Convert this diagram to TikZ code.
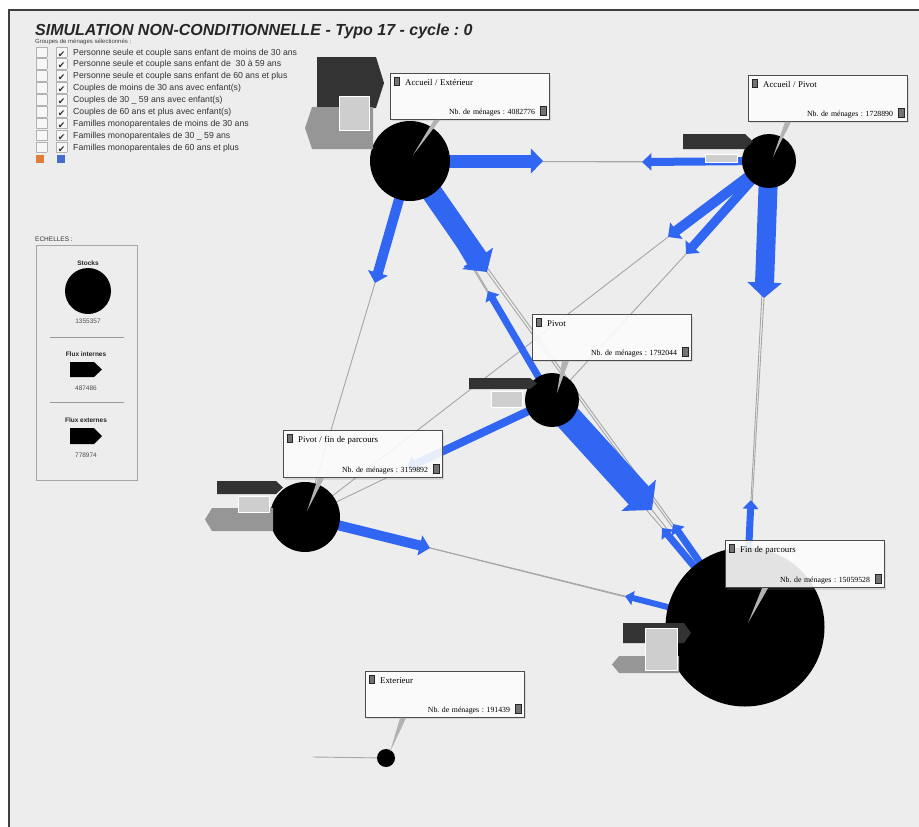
\documentclass[tikz,border=0pt]{standalone}
\usepackage{fontspec}
\setmainfont{Liberation Sans}
\newfontfamily\boxfont{Liberation Serif}
\newfontfamily\symfont{DejaVu Sans}
\usetikzlibrary{arrows.meta,calc,shadows,positioning}
\frenchspacing

\definecolor{flowblue}{RGB}{48,102,242}
\definecolor{panel}{RGB}{237,237,237}
\definecolor{stubdark}{RGB}{51,51,51}
\definecolor{stubmid}{RGB}{150,150,150}
\definecolor{stublight}{RGB}{206,206,206}
\definecolor{iconorange}{RGB}{226,124,58}
\definecolor{iconblue}{RGB}{70,108,210}

\newcommand{\boxsq}{{\setlength{\fboxsep}{0pt}\setlength{\fboxrule}{0.7pt}\fcolorbox{black!85}{black!55}{\rule{5pt}{0pt}\rule{0pt}{8pt}}}}
\newcommand{\boxtitle}[1]{{\fontsize{8.8}{10}\selectfont #1}}
\newcommand{\emptybx}{\raisebox{-2pt}{\setlength{\fboxsep}{0pt}\setlength{\fboxrule}{0.5pt}\fcolorbox{black!30}{black!3}{\rule{10pt}{0pt}\rule{0pt}{10pt}}}}
\newcommand{\tickbx}{\raisebox{-2pt}{\setlength{\fboxsep}{0pt}\setlength{\fboxrule}{0.5pt}\fcolorbox{black!30}{black!3}{\makebox[10pt]{\rule{0pt}{10pt}\symfont\fontsize{9}{9}\selectfont ✔}}}}

\pgfdeclarelayer{back}
\pgfsetlayers{back,main}

\tikzset{
  stock/.style={circle, fill=black, inner sep=0pt, minimum size=#1},
  link/.style={draw=black!35, line width=0.9pt},
  flow/.style={draw=flowblue, line width=#1, -{Triangle[length=5pt 0.55, width=5pt 1.5]}},
  infobox/.style={draw=black!70, line width=1.2pt, fill=white, fill opacity=0.88, text opacity=1,
    anchor=north west, text width=153pt, inner sep=3pt, align=left,
    font=\boxfont\fontsize{7.8}{9}\selectfont,
    drop shadow={shadow xshift=1.5pt, shadow yshift=-2pt, opacity=0.2}},
  pointer/.style={fill=black!30},
  extin/.style={fill=stubdark},
  extout/.style={fill=stubmid},
  intern/.style={fill=stublight, draw=white, line width=0.8pt},
  grouptext/.style={anchor=west, inner sep=0pt, text=black!80, font=\fontsize{8.7}{10}\selectfont},
  scaletext/.style={inner sep=0pt, text=black!70, font=\fontsize{6.5}{8}\selectfont},
}

\begin{document}
\begin{tikzpicture}[x=1pt,y=-1pt]
\useasboundingbox (0,0) rectangle (919,827);
\begin{pgfonlayer}{back}
  \fill[white] (0,0) rectangle (919,827);
  \fill[panel] (9,10) rectangle (919,827);
  \draw[black!75, line width=1.5pt] (9,827) -- (9,10) -- (919,10);
\end{pgfonlayer}

% title and groups
\node[anchor=base west, inner sep=0pt, text=black!85, font=\fontsize{16}{19}\selectfont\bfseries\itshape] (title) at (35,35) {SIMULATION NON-CONDITIONNELLE - Typo 17 - cycle : 0};
\node[anchor=base west, inner sep=0pt, text=black!75, font=\fontsize{6}{7}\selectfont] (groups) at (35,43) {Groupes de ménages sélectionnés :};

\node[grouptext] (g1) at (36,52) {\emptybx\hspace{9pt}\tickbx\hspace{6pt}Personne seule et couple sans enfant de moins de 30 ans};
\node[grouptext] (g2) at (36,63.9) {\emptybx\hspace{9pt}\tickbx\hspace{6pt}Personne seule et couple sans enfant de \ 30 à 59 ans};
\node[grouptext] (g3) at (36,75.8) {\emptybx\hspace{9pt}\tickbx\hspace{6pt}Personne seule et couple sans enfant de 60 ans et plus};
\node[grouptext] (g4) at (36,87.7) {\emptybx\hspace{9pt}\tickbx\hspace{6pt}Couples de moins de 30 ans avec enfant(s)};
\node[grouptext] (g5) at (36,99.6) {\emptybx\hspace{9pt}\tickbx\hspace{6pt}Couples de 30 \_ 59 ans avec enfant(s)};
\node[grouptext] (g6) at (36,111.5) {\emptybx\hspace{9pt}\tickbx\hspace{6pt}Couples de 60 ans et plus avec enfant(s)};
\node[grouptext] (g7) at (36,123.4) {\emptybx\hspace{9pt}\tickbx\hspace{6pt}Familles monoparentales de moins de 30 ans};
\node[grouptext] (g8) at (36,135.3) {\emptybx\hspace{9pt}\tickbx\hspace{6pt}Familles monoparentales de 30 \_ 59 ans};
\node[grouptext] (g9) at (36,147.2) {\emptybx\hspace{9pt}\tickbx\hspace{6pt}Familles monoparentales de 60 ans et plus};
\fill[iconorange] (36,155) rectangle (44,163);
\fill[iconblue] (57,155) rectangle (65,163);

% echelles
\node[scaletext, anchor=base west, text=black!80] (scales) at (35,241) {ECHELLES :};
\draw[black!35] (36,245) rectangle (137,480);
\node[scaletext, font=\fontsize{6.5}{8}\selectfont\bfseries, text=black!85] (stockslbl) at (88,263) {Stocks};
\node[stock=46pt] (stockscale) at (88,291) {};
\node[scaletext] (stocksval) at (88,321) {1355357};
\draw[black!40] (50,337) -- (124,337);
\node[scaletext, font=\fontsize{6.5}{8}\selectfont\bfseries, text=black!85] (intlbl) at (86,354) {Flux internes};
\fill[black] (70,362) -- (94,362) -- (102,369.5) -- (94,377) -- (70,377) -- cycle;
\node[scaletext] (intval) at (86,388) {487486};
\draw[black!40] (50,402) -- (124,402);
\node[scaletext, font=\fontsize{6.5}{8}\selectfont\bfseries, text=black!85] (extlbl) at (86,420) {Flux externes};
\fill[black] (70,428) -- (94,428) -- (102,436) -- (94,444) -- (70,444) -- cycle;
\node[scaletext] (extval) at (86,455) {778974};

% stocks
\node[stock=80pt] (ae) at (410,161) {};
\node[stock=54pt] (ap) at (769,161) {};
\node[stock=54pt] (pv) at (552,400) {};
\node[stock=70pt] (pf) at (305,517) {};
\node[stock=159pt] (fin) at (745,627) {};
\node[stock=18pt] (ext) at (386,758) {};

% arrow tips
\coordinate (aeap) at (543,161);
\coordinate (apae) at (642,162);
\coordinate (aepf) at (375,283);
\coordinate (aefin) at (487,272);
\coordinate (aepv) at (474,270);
\coordinate (pvae) at (488,291);
\coordinate (appf) at (668,237);
\coordinate (appv) at (686,254);
\coordinate (apfin) at (764,298);
\coordinate (finap) at (751,500);
\coordinate (pvfin) at (652,510);
\coordinate (finpv) at (662,528);
\coordinate (finae) at (673,524);
\coordinate (pvpf) at (407,468);
\coordinate (pffin) at (430,548);
\coordinate (finpf) at (625,596);
\coordinate (extfar) at (313,757);

\begin{pgfonlayer}{back}
  \draw[link] (aeap) -- (ap.center);
  \draw[link] (apae) -- (ae.center);
  \draw[link] (aepf) -- (pf.center);
  \draw[link] (aefin) -- (fin.center);
  \draw[link] (aepv) -- (pv.center);
  \draw[link] (pvae) -- (ae.center);
  \draw[link] (appf) -- (pf.center);
  \draw[link] (appv) -- (pv.center);
  \draw[link] (apfin) -- (fin.center);
  \draw[link] (finap) -- (ap.center);
  \draw[link] (pvfin) -- (fin.center);
  \draw[link] (finpv) -- (pv.center);
  \draw[link] (finae) -- (ae.center);
  \draw[link] (pvpf) -- (pf.center);
  \draw[link] (pffin) -- (fin.center);
  \draw[link] (finpf) -- (pf.center);
  \draw[link] (extfar) -- (ext.center);

  \draw[flow=13] (ae.center) -- (aeap);
  \draw[flow=8] (ap.center) -- (apae);
  \draw[flow=10] (ae.center) -- (aepf);
  \draw[flow=6] (ae.center) -- (aepv);
  \draw[flow=21] (ae.center) -- (aefin);
  \draw[flow=7] (pv.center) -- (pvae);
  \draw[flow=10] (ap.center) -- (appf);
  \draw[flow=9] (ap.center) -- (appv);
  \draw[flow=19] (ap.center) -- (apfin);
  \draw[flow=7] (fin.center) -- (finap);
  \draw[flow=27] (pv.center) -- (pvfin);
  \draw[flow=7] (fin.center) -- (finpv);
  \draw[flow=7] (fin.center) -- (finae);
  \draw[flow=8] (pv.center) -- (pvpf);
  \draw[flow=10] (pf.center) -- (pffin);
  \draw[flow=6] (fin.center) -- (finpf);
\end{pgfonlayer}

% external and internal flows
\fill[extin] (317,57) -- (376,57) -- (384,83) -- (376,108) -- (317,108) -- cycle;
\fill[extout] (312,107) -- (373,107) -- (373,149) -- (312,149) -- (305,128) -- cycle;
\filldraw[intern] (339,96) rectangle (369,130);

\fill[extin] (683,134) -- (745,134) -- (753,141.5) -- (745,149) -- (683,149) -- cycle;
\filldraw[intern] (705,154) rectangle (737,162);

\fill[extin] (469,378) -- (530,378) -- (537,383.5) -- (530,389) -- (469,389) -- cycle;
\filldraw[intern] (491,391) rectangle (522,407);

\fill[extin] (217,481) -- (276,481) -- (283,487.5) -- (276,494) -- (217,494) -- cycle;
\fill[extout] (212,508) -- (273,508) -- (273,531) -- (212,531) -- (205,519.5) -- cycle;
\filldraw[intern] (238,496) rectangle (269,512);

\fill[extin] (623,623) -- (684,623) -- (691,633) -- (684,643) -- (623,643) -- cycle;
\fill[extout] (619,656) -- (679,656) -- (679,673) -- (619,673) -- (612,664.5) -- cycle;
\filldraw[intern] (645,628) rectangle (677,670);

% labels
\node[infobox] (aebox) at (390,73) {\boxsq\ \ \boxtitle{Accueil / Extérieur}\\[19pt]\hfill Nb. de ménages : 4082776\ \ \boxsq};
\fill[pointer] ($(aebox.south west)+(44,0)$) -- ($(aebox.south west)+(50,0)$) -- (413,155) -- cycle;

\node[infobox] (apbox) at (748,75) {\boxsq\ \ \boxtitle{Accueil / Pivot}\\[19pt]\hfill Nb. de ménages : 1728890\ \ \boxsq};
\fill[pointer] ($(apbox.south west)+(37,0)$) -- ($(apbox.south west)+(43,0)$) -- (773,157) -- cycle;

\node[infobox] (pvbox) at (532,314) {\boxsq\ \ \boxtitle{Pivot}\\[19pt]\hfill Nb. de ménages : 1792044\ \ \boxsq};
\fill[pointer] ($(pvbox.south west)+(30,0)$) -- ($(pvbox.south west)+(37,0)$) -- (557,393) -- cycle;

\node[infobox] (pfbox) at (283,430) {\boxsq\ \ \boxtitle{Pivot / fin de parcours}\\[19pt]\hfill Nb. de ménages : 3159892\ \ \boxsq};
\fill[pointer] ($(pfbox.south west)+(35,0)$) -- ($(pfbox.south west)+(41,0)$) -- (307,511) -- cycle;

\node[infobox] (finbox) at (725,540) {\boxsq\ \ \boxtitle{Fin de parcours}\\[19pt]\hfill Nb. de ménages : 15059528\ \ \boxsq};
\fill[pointer] ($(finbox.south west)+(37,0)$) -- ($(finbox.south west)+(43,0)$) -- (748,623) -- cycle;

\node[infobox] (extbox) at (365,671) {\boxsq\ \ \boxtitle{Exterieur}\\[19pt]\hfill Nb. de ménages : 191439\ \ \boxsq};
\fill[pointer] ($(extbox.south west)+(35,0)$) -- ($(extbox.south west)+(41,0)$) -- (390,752) -- cycle;
\end{tikzpicture}
\end{document}
